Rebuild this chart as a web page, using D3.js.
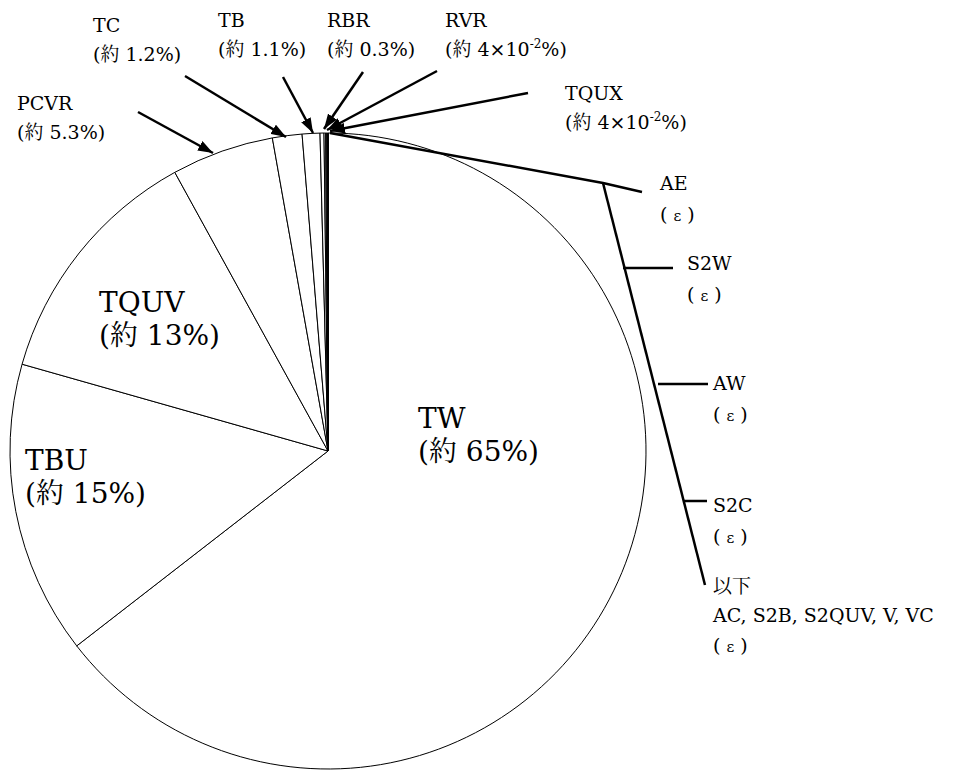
<!DOCTYPE html>
<html>
<head>
<meta charset="utf-8">
<script src="https://cdn.jsdelivr.net/npm/d3@7"></script>
<style>
  body { margin: 0; background: #fff; }
</style>
</head>
<body>
<svg id="svg1" width="965" height="772"></svg>
<script>
// slice order goes clockwise from 12 o'clock
var categories = ["TW", "TBU", "TQUV", "PCVR", "TC", "TB", "RBR", "RVR", "TQUX", "AE", "S2W", "AW", "S2C", "rest"];
var shares = [64.5, 14.9, 12.6, 5.2, 1.5, 0.9, 0.2, 0.08, 0.06, 0.02, 0.02, 0.01, 0.01, 0.0];

// text shown next to each slice (as printed on the chart)
var bigLabels = [
  {name: "TW", pct: "(約 65%)"},
  {name: "TBU", pct: "(約 15%)"},
  {name: "TQUV", pct: "(約 13%)"}
];
var smallLabels = [
  {name: "PCVR", pct: "(約 5.3%)"},
  {name: "TC", pct: "(約 1.2%)"},
  {name: "TB", pct: "(約 1.1%)"},
  {name: "RBR", pct: "(約 0.3%)"},
  {name: "RVR", pct: "sci"},
  {name: "TQUX", pct: "sci"}
];
var epsLabels = ["AE", "S2W", "AW", "S2C"];

var serif = "'DejaVu Serif', 'Liberation Serif', 'Noto Serif CJK JP', 'Noto Sans CJK JP', serif";

var svg = d3.select('svg')
    .attr('font-family', serif)
    .style('font-family', serif);
var cx = 328, cy = 451, radius = 318;

var pie = d3.pie().sort(null).value(function(d){ return d; });
var arc = d3.arc().innerRadius(0).outerRadius(radius);

var g = svg.append('g').attr('transform', 'translate(' + cx + ',' + cy + ')');

g.selectAll('path')
    .data(pie(shares))
    .enter()
    .append('path')
    .attr('d', arc)
    .attr('fill', 'white')
    .attr('stroke', 'black')
    .attr('stroke-width', 1);

// arrowhead
svg.append('defs').append('marker')
    .attr('id', 'arrow')
    .attr('markerUnits', 'userSpaceOnUse')
    .attr('viewBox', '0 0 14 10')
    .attr('refX', 14).attr('refY', 5)
    .attr('markerWidth', 15).attr('markerHeight', 11)
    .attr('orient', 'auto')
    .append('path')
    .attr('d', 'M0,0 L14,5 L0,10 Z')
    .attr('fill', 'black');

// big labels inside the pie
var bigPos = [[418, 428], [25, 470], [99, 312]];
bigLabels.forEach(function(d, i){
  var t = svg.append('text').attr('x', bigPos[i][0]).attr('y', bigPos[i][1]).style('font-size', '28px');
  t.append('tspan').attr('x', bigPos[i][0]).text(d.name);
  t.append('tspan').attr('x', bigPos[i][0]).attr('dy', 33).text(d.pct);
});

// small labels with arrows
var smallPos = [[17, 110], [93, 32], [218, 27], [327, 27], [445, 27], [565, 100]];
var arrows = [
  [[138, 112], [213, 153]],
  [[185, 76], [286, 137]],
  [[283, 77], [313, 133]],
  [[363, 72], [324, 129]],
  [[437, 71], [327, 130]],
  [[528, 93], [330, 131]]
];
smallLabels.forEach(function(d, i){
  var x = smallPos[i][0], y = smallPos[i][1];
  var t = svg.append('text').attr('x', x).attr('y', y).style('font-size', '19px');
  t.append('tspan').attr('x', x).text(d.name);
  var p = t.append('tspan').attr('x', x).attr('dy', 29);
  if (d.pct === "sci") {
    p.text("(約 4×10");
    p.append('tspan').attr('dy', -8).style('font-size', '12px').text("-2");
    p.append('tspan').attr('dy', 8).text("%)");
  } else {
    p.text(d.pct);
  }
  svg.append('line')
      .attr('x1', arrows[i][0][0]).attr('y1', arrows[i][0][1])
      .attr('x2', arrows[i][1][0]).attr('y2', arrows[i][1][1])
      .attr('stroke', 'black').attr('stroke-width', 2.5)
      .attr('marker-end', 'url(#arrow)');
});

// pointer to the tiny slices on the right
svg.append('polyline')
    .attr('points', '330,133 603,183 642,192')
    .attr('fill', 'none').attr('stroke', 'black').attr('stroke-width', 2.5);
svg.append('line')
    .attr('x1', 603).attr('y1', 183).attr('x2', 705).attr('y2', 585)
    .attr('stroke', 'black').attr('stroke-width', 2.5);

var branches = [[623, 268, 673], [658, 384, 708], [683, 501, 707]];
branches.forEach(function(b){
  svg.append('line')
      .attr('x1', b[0]).attr('y1', b[1]).attr('x2', b[2]).attr('y2', b[1])
      .attr('stroke', 'black').attr('stroke-width', 2.5);
});

function epsText(x, y) {
  var t = svg.append('text').attr('x', x).attr('y', y).style('font-size', '19px');
  t.append('tspan').text('( ');
  t.append('tspan').style('font-size', '15px').text('ε');
  t.append('tspan').text(' )');
}

var epsPos = [[660, 190], [687, 270], [713, 390], [713, 512]];
epsLabels.forEach(function(d, i){
  svg.append('text').attr('x', epsPos[i][0]).attr('y', epsPos[i][1]).style('font-size', '19px').text(d);
  epsText(epsPos[i][0], epsPos[i][1] + 31);
});

svg.append('text').attr('x', 713).attr('y', 593).style('font-size', '19px').text('以下');
svg.append('text').attr('x', 713).attr('y', 622).style('font-size', '19px').text('AC, S2B, S2QUV, V, VC');
epsText(713, 652);
</script>
</body>
</html>
